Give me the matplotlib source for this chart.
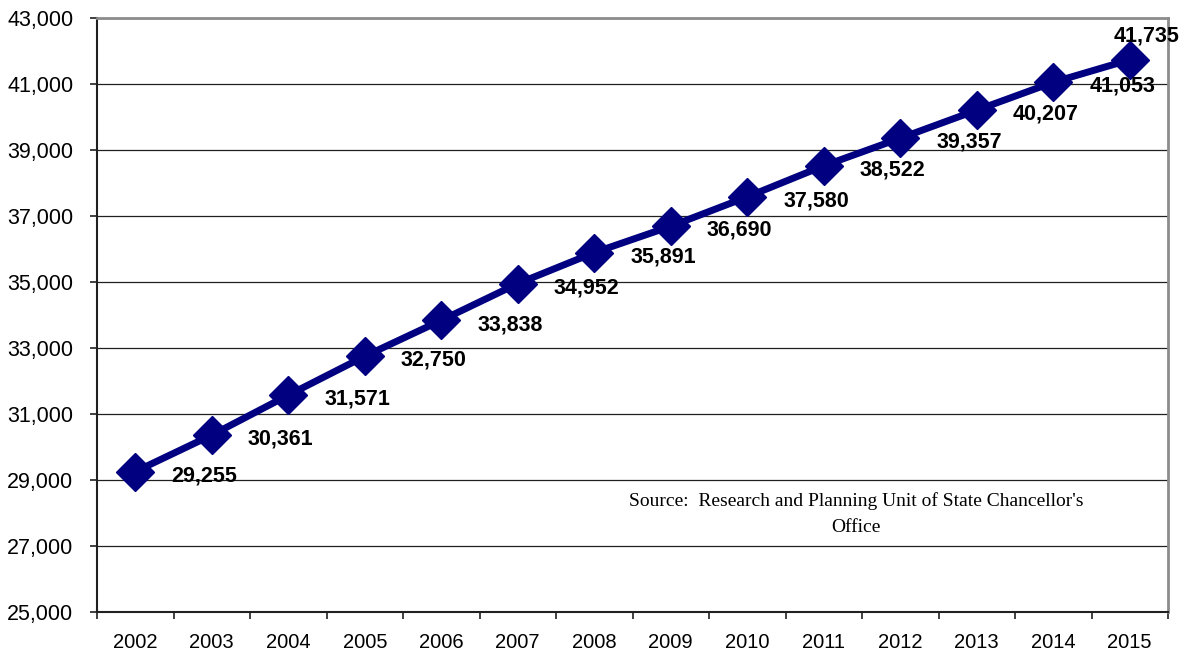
import matplotlib
matplotlib.use("Agg")
import matplotlib.pyplot as plt
from matplotlib.ticker import FuncFormatter, FixedLocator

years = ["2002", "2003", "2004", "2005", "2006", "2007", "2008",
         "2009", "2010", "2011", "2012", "2013", "2014", "2015"]
values = [29255, 30361, 31571, 32750, 33838, 34952, 35891,
          36690, 37580, 38522, 39357, 40207, 41053, 41735]
y_ticks = list(range(25000, 43001, 2000))
source_text = "Source:  Research and Planning Unit of State Chancellor's\nOffice"

fig = plt.figure(figsize=(11.91, 6.55), dpi=100)
ax = fig.add_axes([97 / 1191, 1 - 612 / 655, (1168 - 97) / 1191, (612 - 18) / 655])

x = list(range(len(years)))
ax.plot(x, values, color="#000080", lw=5, marker="D", markersize=19,
        solid_joinstyle="round", zorder=3)

for i, (xi, v) in enumerate(zip(x, values)):
    label = f"{v:,}"
    if i == len(values) - 1:
        ax.annotate(label, (xi, v), xytext=(12, 17), textcoords="offset points",
                    ha="center", va="center", fontsize=15.5, fontweight="bold",
                    family="Liberation Sans", zorder=4)
    else:
        ax.annotate(label, (xi, v), xytext=(26, -3), textcoords="offset points",
                    ha="left", va="center", fontsize=15.5, fontweight="bold",
                    family="Liberation Sans", zorder=4)

ax.set_xlim(-0.5, len(years) - 0.5)
ax.set_ylim(25000, 43000)

ax.set_yticks(y_ticks)
ax.yaxis.set_major_formatter(FuncFormatter(lambda v, p: f"{int(v):,}"))
ax.yaxis.grid(True, color="#202020", lw=0.9)
ax.set_axisbelow(True)

ax.set_xticks(x)
ax.set_xticklabels(years)
ax.xaxis.set_minor_locator(FixedLocator([i - 0.5 for i in range(len(years) + 1)]))
ax.tick_params(axis="x", which="major", length=0, pad=15)
ax.tick_params(axis="x", which="minor", length=5, width=1.2, color="#202020")
ax.tick_params(axis="y", length=5, width=1.2, color="#202020", pad=12)

for lab in ax.get_xticklabels():
    lab.set_fontfamily("Liberation Sans")
    lab.set_fontsize(14.5)
for lab in ax.get_yticklabels():
    lab.set_fontfamily("Liberation Sans")
    lab.set_fontsize(15.5)

ax.spines["left"].set_color("#202020")
ax.spines["left"].set_linewidth(1.5)
ax.spines["bottom"].set_color("#202020")
ax.spines["bottom"].set_linewidth(1.5)
ax.spines["right"].set_color("#8c8c8c")
ax.spines["right"].set_linewidth(2)
ax.spines["top"].set_color("#8c8c8c")
ax.spines["top"].set_linewidth(2)

ax.text(856, 655 - 514, source_text, transform=None, ha="center", va="center",
        fontsize=14, family="Liberation Serif", linespacing=1.7)

fig.savefig("out.png", dpi=100)
